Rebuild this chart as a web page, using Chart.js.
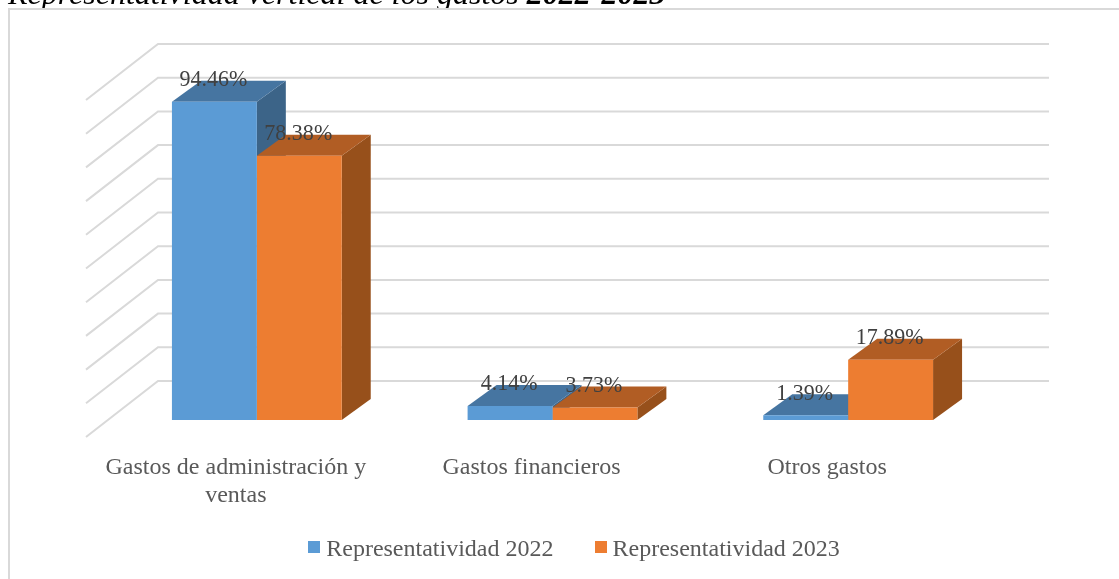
<!DOCTYPE html>
<html><head><meta charset="utf-8">
<style>
html,body{margin:0;padding:0;background:#fff;overflow:hidden}
#wrap{position:relative;width:1119px;height:579px;overflow:hidden}
#cv{position:absolute;left:0;top:0}
#frame{position:absolute;left:8px;top:8px;width:1111px;height:600px;border-left:2px solid #D9D9D9;border-top:2px solid #D9D9D9;box-sizing:border-box;pointer-events:none}
#ttlclip{position:absolute;left:0;top:0;width:1119px;height:8px;overflow:hidden}
#ttl{position:absolute;left:8px;top:-25px;font:italic 32px "Liberation Serif",serif;color:#000;white-space:nowrap}
#ttl b{font-weight:bold}
</style></head><body>
<div id="wrap">
<canvas id="cv" width="1119" height="579"></canvas>
<div id="frame"></div>
<div id="ttlclip"><div id="ttl">Representatividad vertical de los gastos <b>2022-2023</b></div></div>
</div>
<script src="https://cdn.jsdelivr.net/npm/chart.js@4"></script>
<script>
const categories = [["Gastos de administración y","ventas"],"Gastos financieros","Otros gastos"];
const series2022 = [94.46,4.14,1.39];
const series2023 = [78.38,3.73,17.89];
const seriesNames = ["Representatividad 2022","Representatividad 2023"];
const frontColors = ["#5B9BD5","#ED7D31"];
const topColors = ["#4675A1","#B15D24"];
const sideColors = ["#3C6488","#97501B"];

const swatches = frontColors.map(col=>{
  const s = document.createElement("canvas");
  s.width = 12; s.height = 18;
  const x = s.getContext("2d");
  x.fillStyle = col; x.fillRect(0,0,12,12);
  return s;
});

const box3d = {
  id:"box3d",
  afterLayout(chart){
    const l = chart.legend;
    l.left += 24.5; l.right += 24.5;
    l.top -= 31; l.bottom -= 31;
  },
  beforeDatasetsDraw(chart){
    const c = chart.ctx, y = chart.scales.y, a = chart.chartArea;
    const wx = 49, wr = 53, wy = 39, fx = 23, fy = 17;
    c.save();
    c.strokeStyle = "#D9D9D9"; c.lineWidth = 2;
    y.ticks.forEach(t=>{
      const p = y.getPixelForValue(t.value);
      c.beginPath();
      c.moveTo(a.left-fx, p+fy);
      c.lineTo(a.left+wx, p-wy);
      c.lineTo(a.right+wr, p-wy);
      c.stroke();
    });
    const dx = 29, dy = 21;
    chart.data.labels.forEach((_,i)=>{
      chart.data.datasets.forEach((d,k)=>{
        const b = chart.getDatasetMeta(k).data[i];
        const L = b.x-b.width/2, R = b.x+b.width/2, T = b.y, B = b.base;
        c.fillStyle = sideColors[k];
        c.beginPath(); c.moveTo(R,T); c.lineTo(R+dx,T-dy); c.lineTo(R+dx,B-dy); c.lineTo(R,B); c.closePath(); c.fill();
        c.fillStyle = topColors[k];
        c.beginPath(); c.moveTo(L,T); c.lineTo(L+dx,T-dy); c.lineTo(R+dx,T-dy); c.lineTo(R,T); c.closePath(); c.fill();
      });
    });
    c.restore();
  },
  afterDatasetsDraw(chart){
    const c = chart.ctx;
    c.save();
    c.font = '24px "Liberation Serif",serif';
    c.fillStyle = "#404040"; c.textAlign = "center"; c.textBaseline = "middle";
    chart.data.datasets.forEach((d,k)=>{
      chart.getDatasetMeta(k).data.forEach((b,i)=>{
        const txt = d.data[i].toFixed(2)+"%";
        c.fillText(txt, b.x-1, b.y-22, c.measureText(txt).width*0.917);
      });
    });
    c.restore();
  }
};

new Chart(document.getElementById("cv"),{
  type:"bar",
  data:{labels:categories,datasets:[
    {label:seriesNames[0],data:series2022,backgroundColor:frontColors[0],borderWidth:0},
    {label:seriesNames[1],data:series2023,backgroundColor:frontColors[1],borderWidth:0}
  ]},
  plugins:[box3d],
  options:{
    responsive:false,animation:false,
    layout:{padding:{left:109,right:123,top:83,bottom:-24}},
    datasets:{bar:{categoryPercentage:0.5743,barPercentage:1}},
    plugins:{
      title:{display:false},tooltip:{enabled:false},
      legend:{position:"bottom",labels:{
        usePointStyle:true,boxWidth:0.01,padding:47,color:"#595959",font:{family:"Liberation Serif",size:24},
        generateLabels(chart){
          const items = Chart.defaults.plugins.legend.labels.generateLabels(chart);
          items.forEach((it,i)=>{it.pointStyle = swatches[i];});
          return items;
        }
      }}
    },
    scales:{
      x:{
        grid:{display:false},border:{display:false},
        afterFit(s){s.height=102;},
        ticks:{autoSkip:false,maxRotation:0,minRotation:0,labelOffset:-21,padding:26,color:"#595959",font:{family:"Liberation Serif",size:24,lineHeight:1.17}}
      },
      y:{display:false,min:0,max:100,ticks:{stepSize:10}}
    }
  }
});
</script>
</body></html>
